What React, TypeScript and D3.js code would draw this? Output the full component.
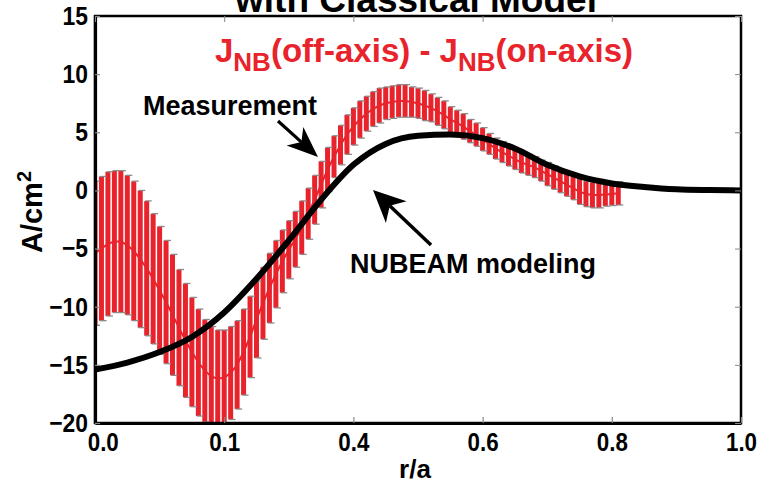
import React, { useRef, useEffect } from "react";
import * as d3 from "d3";

// measured J_NB difference (error bars)
const barR = [
  0, 0.01, 0.02, 0.03, 0.04, 0.05, 0.06, 0.07, 0.08, 0.09, 0.1, 0.11, 0.12, 0.13,
  0.14, 0.15, 0.16, 0.17, 0.18, 0.19, 0.2, 0.21, 0.22, 0.23, 0.24, 0.25, 0.26,
  0.27, 0.28, 0.29, 0.3, 0.31, 0.32, 0.33, 0.34, 0.35, 0.36, 0.37, 0.38, 0.39,
  0.4, 0.41, 0.42, 0.43, 0.44, 0.45, 0.46, 0.47, 0.48, 0.49, 0.5, 0.51, 0.52,
  0.53, 0.54, 0.55, 0.56, 0.57, 0.58, 0.59, 0.6, 0.61, 0.62, 0.63, 0.64, 0.65,
  0.66, 0.67, 0.68, 0.69, 0.7, 0.71, 0.72, 0.73, 0.74, 0.75, 0.76, 0.77, 0.78,
  0.79, 0.8, 0.81,
];
const barMean = [
  -5.4, -5.0, -4.6, -4.4, -4.4, -4.7, -5.2, -5.9, -6.7, -7.6, -8.6, -9.6, -10.7,
  -11.8, -12.9, -13.9, -14.8, -15.5, -16.0, -16.2, -16.1, -15.7, -15.0, -13.9,
  -12.6, -11.1, -9.7, -8.4, -7.2, -6.1, -5.1, -4.2, -3.2, -2.0, -0.8, 0.5, 1.8,
  2.9, 3.9, 4.8, 5.5, 6.1, 6.6, 7.0, 7.3, 7.5, 7.6, 7.7, 7.7, 7.6, 7.5, 7.3, 7.1,
  6.8, 6.5, 6.1, 5.8, 5.5, 5.1, 4.8, 4.4, 4.0, 3.6, 3.3, 3.0, 2.7, 2.4, 2.2, 2.0,
  1.7, 1.4, 1.1, 0.8, 0.5, 0.2, -0.1, -0.3, -0.4, -0.4, -0.35, -0.3, -0.25,
];
const barErr = [
  6.2, 6.2, 6.2, 6.1, 6.1, 6.0, 6.0, 5.9, 5.8, 5.6, 5.5, 5.3, 5.2, 5.0, 4.9, 4.7,
  4.6, 4.4, 4.3, 4.2, 4.1, 4.0, 3.8, 3.7, 3.5, 3.3, 3.1, 3.0, 2.9, 2.7, 2.5, 2.4,
  2.3, 2.2, 2.1, 2.0, 1.9, 1.8, 1.7, 1.7, 1.6, 1.6, 1.5, 1.5, 1.5, 1.4, 1.4, 1.4,
  1.4, 1.3, 1.3, 1.3, 1.2, 1.2, 1.2, 1.1, 1.1, 1.1, 1.0, 1.0, 1.0, 0.9, 0.9, 0.9,
  0.9, 0.9, 0.9, 0.9, 0.9, 0.9, 1.0, 1.0, 1.0, 1.0, 1.0, 1.1, 1.1, 1.1, 1.1, 1.0,
  1.0, 1.0,
];

// NUBEAM modeling curve
const modelR = [
  0, 0.05, 0.1, 0.15, 0.2, 0.25, 0.3, 0.35, 0.4, 0.45, 0.5, 0.55, 0.6, 0.65, 0.7,
  0.75, 0.8, 0.85, 0.9, 0.95, 1.0,
];
const modelJ = [
  -15.4, -14.8, -13.9, -12.6, -10.5, -7.6, -4.3, -0.8, 2.2, 4.0, 4.7, 4.8, 4.5,
  3.6, 2.2, 1.2, 0.6, 0.3, 0.1, 0.03, 0,
];

const xTicks = [0, 0.2, 0.4, 0.6, 0.8, 1.0];
const xTickLabels = ["0.0", "0.1", "0.4", "0.6", "0.8", "1.0"];
const yTicks = [-20, -15, -10, -5, 0, 5, 10, 15];

const RED = "#e8232c";
const FONT = "'Liberation Sans', Arial, Helvetica, sans-serif";

const arrow = (g, x1, y1, x2, y2, len, wid, sw) => {
  const dx = x2 - x1;
  const dy = y2 - y1;
  const d = Math.hypot(dx, dy);
  const ux = dx / d;
  const uy = dy / d;
  const nx = -uy;
  const ny = ux;
  const bx = x2 - ux * len;
  const by = y2 - uy * len;
  const notchX = x2 - ux * len * 0.72;
  const notchY = y2 - uy * len * 0.72;
  g.append("line")
    .attr("x1", x1)
    .attr("y1", y1)
    .attr("x2", notchX)
    .attr("y2", notchY)
    .attr("stroke", "#000")
    .attr("stroke-width", sw);
  g.append("path")
    .attr(
      "d",
      `M${x2},${y2}L${bx + (nx * wid) / 2},${by + (ny * wid) / 2}L${notchX},${notchY}L${bx - (nx * wid) / 2},${by - (ny * wid) / 2}Z`
    )
    .attr("fill", "#000");
};

const App = () => {
  const ref = useRef<SVGSVGElement>(null);

  useEffect(() => {
    const svg = d3.select(ref.current);
    svg.selectAll("*").remove();

    const x = d3.scaleLinear().domain([0, 1]).range([95, 741]);
    const y = d3.scaleLinear().domain([-20, 15]).range([423, 16]);

    svg
      .append("defs")
      .append("clipPath")
      .attr("id", "plotclip")
      .append("rect")
      .attr("x", 95)
      .attr("y", 16)
      .attr("width", 646)
      .attr("height", 407);

    const plot = svg.append("g").attr("clip-path", "url(#plotclip)");
    const idx = d3.range(barR.length);

    plot
      .selectAll(".bar")
      .data(idx)
      .enter()
      .append("line")
      .attr("x1", (i) => x(barR[i]))
      .attr("x2", (i) => x(barR[i]))
      .attr("y1", (i) => y(barMean[i] + barErr[i]))
      .attr("y2", (i) => y(barMean[i] - barErr[i]))
      .attr("stroke", RED)
      .attr("stroke-width", 5);

    plot
      .append("path")
      .datum(idx)
      .attr("fill", "none")
      .attr("stroke", RED)
      .attr("stroke-width", 2)
      .attr(
        "d",
        d3
          .line<number>()
          .x((i) => x(barR[i]))
          .y((i) => y(barMean[i]))
      );

    ["top", "bottom"].forEach((side) => {
      plot
        .selectAll(".cap-" + side)
        .data(idx)
        .enter()
        .append("line")
        .attr("x1", (i) => x(barR[i]) - 1.5)
        .attr("x2", (i) => x(barR[i]) + 5)
        .attr("y1", (i) => y(barMean[i] + (side === "top" ? 1 : -1) * barErr[i]))
        .attr("y2", (i) => y(barMean[i] + (side === "top" ? 1 : -1) * barErr[i]))
        .attr("stroke", "#8a8a8a")
        .attr("stroke-width", 1.3);
    });

    plot
      .append("path")
      .datum(d3.range(modelR.length))
      .attr("fill", "none")
      .attr("stroke", "#000")
      .attr("stroke-width", 6)
      .attr(
        "d",
        d3
          .line<number>()
          .x((i) => x(modelR[i]))
          .y((i) => y(modelJ[i]))
          .curve(d3.curveMonotoneX)
      );

    // frame
    svg
      .append("rect")
      .attr("x", 95)
      .attr("y", 16)
      .attr("width", 646)
      .attr("height", 407)
      .attr("fill", "none")
      .attr("stroke", "#000")
      .attr("stroke-width", 2.5);

    const styleAxis = (g) => {
      g.select(".domain").attr("stroke", "#000").attr("stroke-width", 3.2);
      g.selectAll(".tick line").attr("stroke", "#888").attr("stroke-width", 1.2);
      g.selectAll("text")
        .attr("font-family", FONT)
        .attr("font-weight", "bold")
        .attr("font-size", 26)
        .attr("fill", "#000");
    };

    const xAxis = svg
      .append("g")
      .attr("transform", "translate(0,423)")
      .call(
        d3
          .axisBottom(x)
          .tickValues(xTicks)
          .tickFormat((d, i) => xTickLabels[i])
          .tickSizeInner(-6)
          .tickSizeOuter(0)
          .tickPadding(10)
      );
    styleAxis(xAxis);
    xAxis.selectAll("text").attr("transform", "scale(0.86,1)");
    xAxis
      .selectAll(".tick")
      .filter((d) => d === 0)
      .select("text")
      .attr("x", 9);

    const yAxis = svg
      .append("g")
      .attr("transform", "translate(95,0)")
      .call(
        d3
          .axisLeft(y)
          .tickValues(yTicks)
          .tickSizeInner(-5)
          .tickSizeOuter(0)
          .tickPadding(8)
      );
    styleAxis(yAxis);
    yAxis.selectAll("text").attr("transform", "scale(0.88,1)");

    svg
      .append("g")
      .attr("transform", "translate(0,16)")
      .call(d3.axisTop(x).tickValues(xTicks).tickSizeInner(-6).tickSizeOuter(0).tickFormat(() => ""))
      .call((g) => g.select(".domain").remove())
      .call((g) => g.selectAll(".tick line").attr("stroke", "#888"));

    svg
      .append("g")
      .attr("transform", "translate(741,0)")
      .call(d3.axisRight(y).tickValues(yTicks).tickSizeInner(-6).tickSizeOuter(0).tickFormat(() => ""))
      .call((g) => g.select(".domain").remove())
      .call((g) => g.selectAll(".tick line").attr("stroke", "#888"));

    // title, cut off by the top edge as in the source slide
    svg
      .append("text")
      .attr("x", 416)
      .attr("y", 12)
      .attr("text-anchor", "middle")
      .attr("font-family", FONT)
      .attr("font-weight", "bold")
      .attr("font-size", 37)
      .text("with Classical Model");

    const sub = svg
      .append("text")
      .attr("x", 424)
      .attr("y", 62)
      .attr("text-anchor", "middle")
      .attr("font-family", FONT)
      .attr("font-weight", "bold")
      .attr("font-size", 33)
      .attr("fill", RED);
    sub.append("tspan").text("J");
    sub.append("tspan").attr("dy", 9).attr("font-size", 26).text("NB");
    sub.append("tspan").attr("dy", -9).text("(off-axis) - J");
    sub.append("tspan").attr("dy", 9).attr("font-size", 26).text("NB");
    sub.append("tspan").attr("dy", -9).text("(on-axis)");

    svg
      .append("text")
      .attr("x", 143)
      .attr("y", 115)
      .attr("font-family", FONT)
      .attr("font-weight", "bold")
      .attr("font-size", 27)
      .text("Measurement");

    svg
      .append("text")
      .attr("x", 350)
      .attr("y", 273)
      .attr("font-family", FONT)
      .attr("font-weight", "bold")
      .attr("font-size", 27)
      .text("NUBEAM modeling");

    arrow(svg, 278, 121, 318, 157, 31, 25, 3.2);
    arrow(svg, 431, 245, 373, 190, 32, 30, 3.5);

    const yl = svg
      .append("text")
      .attr("transform", "translate(42,212) rotate(-90)")
      .attr("text-anchor", "middle")
      .attr("font-family", FONT)
      .attr("font-weight", "bold")
      .attr("font-size", 29);
    yl.append("tspan").text("A/cm");
    yl.append("tspan").attr("dy", -11).attr("font-size", 20).text("2");

    svg
      .append("text")
      .attr("x", 415)
      .attr("y", 478)
      .attr("text-anchor", "middle")
      .attr("font-family", FONT)
      .attr("font-weight", "bold")
      .attr("font-size", 26)
      .text("r/a");
  }, []);

  return (
    <svg
      ref={ref}
      width={770}
      height={488}
      style={{ position: "absolute", left: 0, top: 0, background: "#fff" }}
    />
  );
};

export default App;
